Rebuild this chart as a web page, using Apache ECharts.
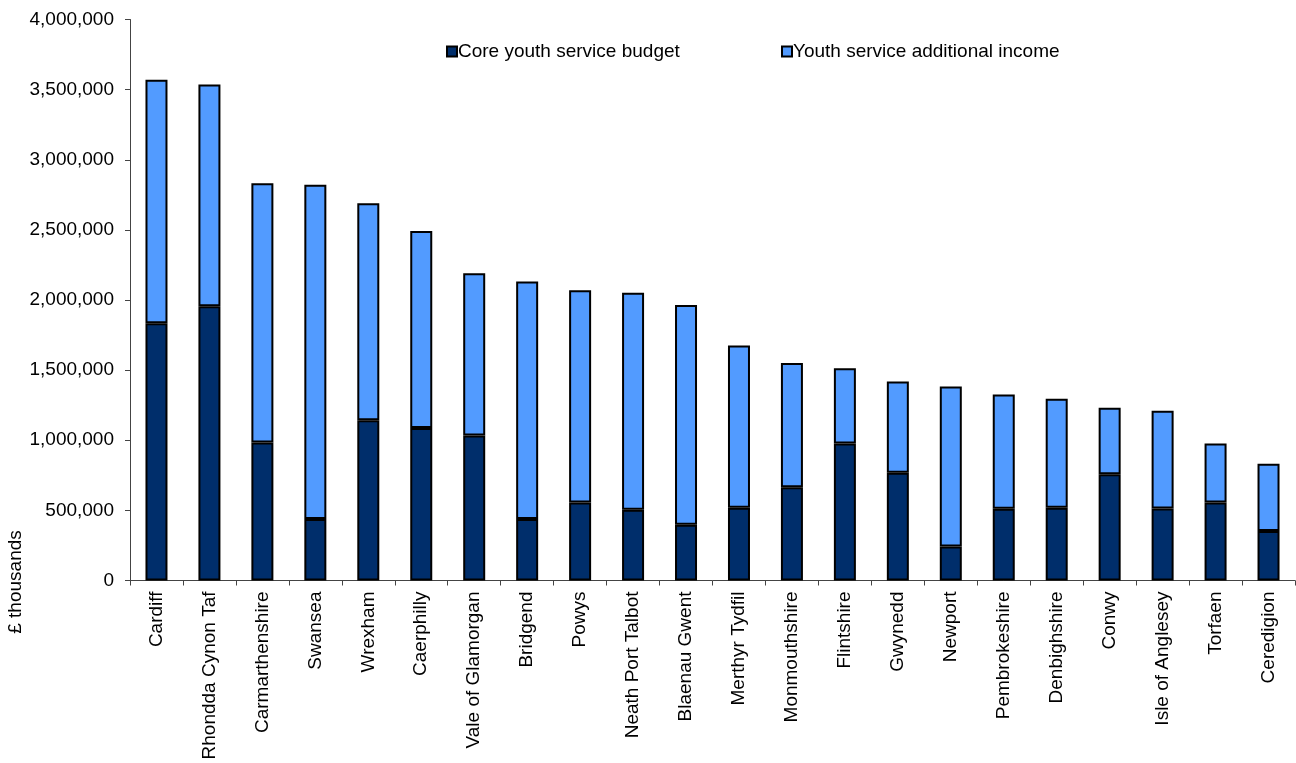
<!DOCTYPE html>
<html>
<head>
<meta charset="utf-8">
<title>Youth service budgets by local authority</title>
<script src="https://cdn.jsdelivr.net/npm/echarts@6/dist/echarts.min.js"></script>
<style>
  html, body { margin: 0; padding: 0; background: #ffffff; }
  #chart { width: 1296px; height: 763px; }
</style>
</head>
<body>
<div id="chart"></div>
<script>
// Local authorities, ordered by total youth service funding
const authorities = [
  'Cardiff', 'Rhondda Cynon Taf', 'Carmarthenshire', 'Swansea', 'Wrexham',
  'Caerphilly', 'Vale of Glamorgan', 'Bridgend', 'Powys', 'Neath Port Talbot',
  'Blaenau Gwent', 'Merthyr Tydfil', 'Monmouthshire', 'Flintshire', 'Gwynedd',
  'Newport', 'Pembrokeshire', 'Denbighshire', 'Conwy', 'Isle of Anglesey',
  'Torfaen', 'Ceredigion'
];

// Core youth service budget (£ thousands)
const coreBudget = [
  1834000, 1955000, 984000, 438000, 1143000,
  1088000, 1034000, 438000, 556000, 504000,
  397000, 519000, 664000, 976000, 768000,
  242000, 512000, 519000, 758000, 514000,
  557000, 353000
];

// Youth service additional income (£ thousands)
const additionalIncome = [
  1737000, 1581000, 1849000, 2383000, 1547000,
  1404000, 1156000, 1694000, 1514000, 1548000,
  1568000, 1156000, 886000, 538000, 651000,
  1142000, 815000, 777000, 474000, 697000,
  419000, 479000
];

const seriesNames = ['Core youth service budget', 'Youth service additional income'];
const yTicks = { min: 0, max: 4000000, interval: 500000 };

const FONT = 'Liberation Sans, Arial, sans-serif';
const TEXT = '#000000';
const FONT_SIZE = 19;

const chart = echarts.init(document.getElementById('chart'), null, { renderer: 'canvas' });

const legendCommon = {
  top: 37,
  orient: 'horizontal',
  icon: 'rect',
  itemWidth: 10,
  itemHeight: 10,
  itemGap: 10,
  textStyle: { fontFamily: FONT, fontSize: FONT_SIZE, color: TEXT, padding: [0, 0, 0, -4] },
  selectedMode: false
};

chart.setOption({
  animation: false,
  backgroundColor: '#ffffff',
  textStyle: { fontFamily: FONT },
  legend: [
    Object.assign({}, legendCommon, { left: 441, data: [seriesNames[0]] }),
    Object.assign({}, legendCommon, { left: 776, data: [seriesNames[1]] })
  ],
  grid: { left: 130, right: 1, top: 19.5, bottom: 182.5, containLabel: false },
  xAxis: {
    type: 'category',
    data: authorities,
    boundaryGap: true,
    axisLine: { show: true, lineStyle: { color: '#444444', width: 1 } },
    axisTick: { show: true, alignWithLabel: false, length: 5, lineStyle: { color: '#444444' } },
    axisLabel: {
      rotate: 90,
      interval: 0,
      margin: 11,
      fontFamily: FONT,
      fontSize: FONT_SIZE,
      color: TEXT
    },
    splitLine: { show: false }
  },
  yAxis: {
    type: 'value',
    min: yTicks.min,
    max: yTicks.max,
    interval: yTicks.interval,
    axisLine: { show: true, lineStyle: { color: '#444444', width: 1 } },
    axisTick: { show: true, length: 5, lineStyle: { color: '#444444' } },
    axisLabel: {
      margin: 16,
      fontFamily: FONT,
      fontSize: FONT_SIZE,
      color: TEXT,
      formatter: v => v.toLocaleString('en-GB')
    },
    splitLine: { show: false }
  },
  graphic: [
    {
      type: 'text',
      x: 16,
      y: 582,
      rotation: Math.PI / 2,
      style: {
        text: '£ thousands',
        fontFamily: FONT,
        fontSize: FONT_SIZE,
        fill: TEXT,
        align: 'center',
        verticalAlign: 'middle'
      }
    }
  ],
  series: [
    {
      name: seriesNames[0],
      type: 'bar',
      stack: 'total',
      data: coreBudget,
      barWidth: 22,
      itemStyle: { color: '#002E6B', borderColor: '#000000', borderWidth: 2 }
    },
    {
      name: seriesNames[1],
      type: 'bar',
      stack: 'total',
      data: additionalIncome,
      barWidth: 22,
      itemStyle: { color: '#529BFF', borderColor: '#000000', borderWidth: 2 }
    }
  ]
});
</script>
</body>
</html>
